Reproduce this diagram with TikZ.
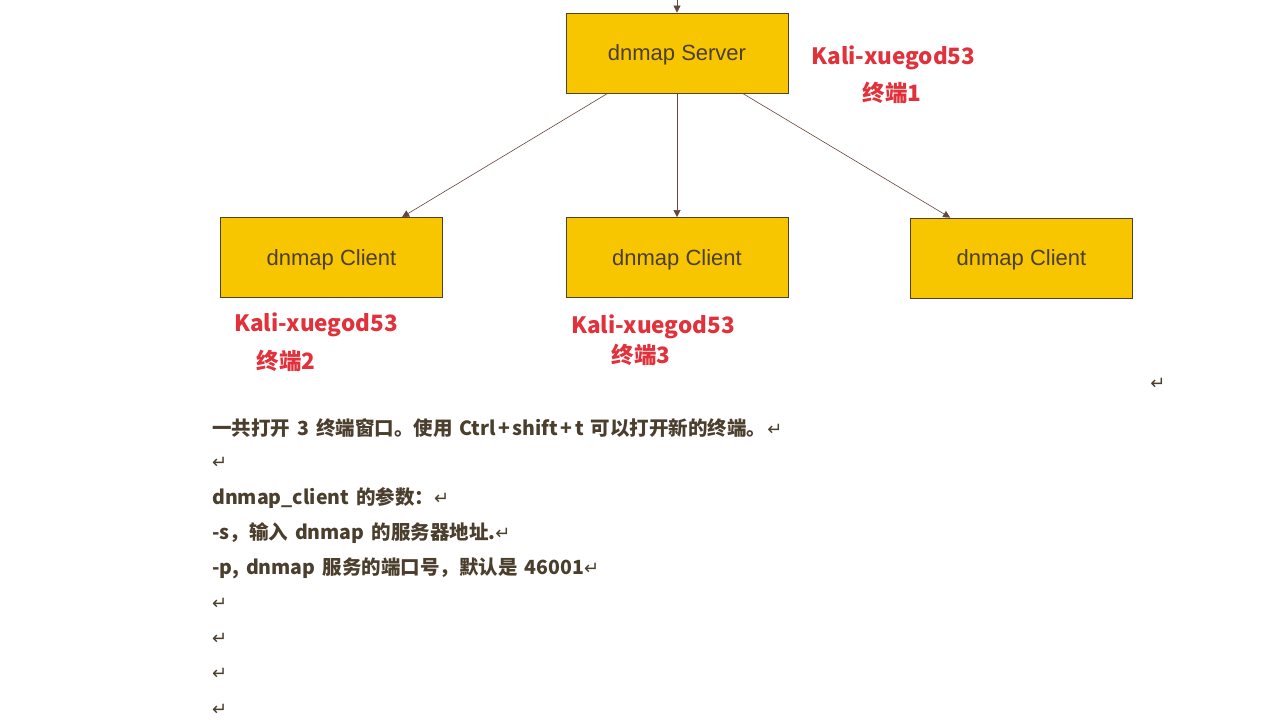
\documentclass[tikz,border=0pt]{standalone}
\usepackage{fontspec}
\setmainfont{Noto Sans CJK SC}
\newfontfamily\boxfont{Liberation Sans}
\newfontfamily\dv{DejaVu Sans}
\usetikzlibrary{arrows.meta,calc}
\definecolor{boxfill}{RGB}{247,198,0}
\definecolor{boxline}{RGB}{80,65,45}
\definecolor{txt}{RGB}{75,62,45}
\definecolor{redlab}{RGB}{225,50,60}
\definecolor{conn}{RGB}{100,70,60}
\newcommand{\bodyfont}{\bfseries\fontsize{19.5}{24}\selectfont\spaceskip=7pt\relax}
\tikzset{
  boxnode/.style={draw=boxline, line width=0.8pt, fill=boxfill, minimum width=222pt, minimum height=80pt, inner sep=0pt, text height=15pt, text depth=0pt, font=\boxfont\fontsize{22}{26}\selectfont, text=txt},
  redlabel/.style={inner sep=0pt, text=redlab, font=\bfseries\fontsize{22.5}{26}\selectfont},
  bodyline/.style={anchor=west, inner sep=0pt, text=txt, font=\bodyfont},
  conline/.style={draw=conn, line width=0.6pt, -{Triangle[length=7pt,width=7pt]}},
}
\newcommand{\pmark}{{\dv\mdseries\fontsize{18}{20}\selectfont ↵}}
\newcommand{\plusw}{\hspace{2.5pt}+\hspace{2.5pt}}
\begin{document}
\begin{tikzpicture}[x=1pt,y=-1pt]
\useasboundingbox[fill=white] (0,0) rectangle (1280,720);
% boxes
\node[boxnode] (srv) at (677,53) {dnmap Server};
\node[boxnode] (c1) at (331.5,257.5) {dnmap Client};
\node[boxnode] (c2) at (677,257.5) {dnmap Client};
\node[boxnode] (c3) at (1021.5,258) {dnmap Client};
% connectors
\coordinate (topin) at (677,-2);
\draw[conline] (topin) -- (srv.north);
\draw[conline] ($(srv.south west)+(42,0)$) -- ($(c1.north west)+(182,0)$);
\draw[conline] (srv.south) -- (c2.north);
\draw[conline] ($(srv.south west)+(177,0)$) -- ($(c3.north west)+(40,0)$);
% red labels
\node[redlabel] (l1a) at (893.5,58) {Kali-xuegod53};
\node[redlabel] (l1b) at (892,93) {终端1};
\node[redlabel] (l2a) at (316,325) {Kali-xuegod53};
\node[redlabel] (l2b) at (286,361) {终端2};
\node[redlabel] (l3a) at (653,327) {Kali-xuegod53};
\node[redlabel] (l3b) at (641,355) {终端3};
% paragraph mark
\node[inner sep=0pt, text=txt] (pm0) at (1158,384) {\pmark};
% body text
\node[bodyline] (t1) at (212,428) {一共打开 3 终端窗口。使用 Ctrl\plusw shift\plusw t 可以打开新的终端。\hspace{1pt}\pmark};
\node[bodyline] (t2) at (212,463) {\pmark};
\node[bodyline] (t3) at (212,498) {dnmap\_client 的参数：\pmark};
\node[bodyline] (t4) at (212,533) {-s，输入 dnmap 的服务器地址.\pmark};
\node[bodyline] (t5) at (212,568) {-p, dnmap 服务的端口号，默认是 46001\pmark};
\node[bodyline] (t6) at (212,604) {\pmark};
\node[bodyline] (t7) at (212,639) {\pmark};
\node[bodyline] (t8) at (212,674) {\pmark};
\node[bodyline] (t9) at (212,710) {\pmark};
\end{tikzpicture}
\end{document}
